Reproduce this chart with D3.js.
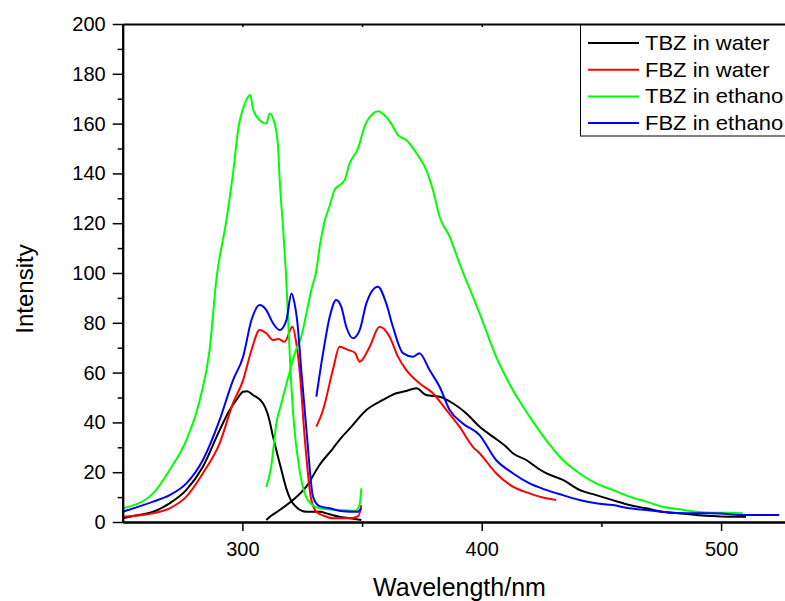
<html>
<script src='https://d3js.org/d3.v7.min.js'></script>
<style>
body {margin: 0; background: white;}
text {font-family: "Liberation Sans", Arial, sans-serif;}
</style>
<body>
<svg width=785 height=601></svg>
<script>
// [wavelength nm, intensity]
var tbzWaterEx = [[250,1.5],[255,2.5],[262.7,4.1],[269.6,7.5],[276.6,12.9],[283.5,22.2],[290.5,36.9],[294.7,45],[297.5,49],[300.3,52.3],[302,52.5],[304.4,51],[308.6,47.7],[311,42],[312.8,34.3],[316.3,20.9],[318.5,13],[321.1,7.5],[326.7,4.1],[332.3,4.1],[336,3.2],[340.6,2.1],[345,1.5],[349.7,0.8]];
var tbzWaterEm = [[310,0.8],[312,2.5],[315.6,4.8],[321.1,8.8],[326.7,14.2],[332.3,23],[337.8,29.5],[341,33.5],[344.8,37.5],[351.8,45],[358.7,49],[364.3,51.7],[368,52.5],[372.7,53.7],[376.8,51],[382.4,50.3],[387.9,47.7],[393.5,43.7],[399.1,38.3],[404.6,34.3],[410.2,30.2],[413,27.6],[418.6,24.9],[423.4,21.6],[426.9,19.6],[433.9,16.9],[440.8,12.9],[447.8,10.8],[454.7,8.8],[461.7,6.8],[468.7,5.5],[475.6,4.1],[482.6,3.5],[489.6,2.8],[496.5,2.4],[503.5,2.1],[510.4,2.1]];
var fbzWaterEx = [[250,2.1],[262.7,3.5],[269.6,5.5],[276.6,10.2],[283.5,19.6],[290.5,31.6],[296.1,47.7],[300.3,57],[303.8,69],[307.2,77.1],[310,75.8],[312.8,73.1],[315,73.5],[317.7,72.4],[320.9,78.4],[322.5,72],[323.9,61],[326,34.3],[328.8,8.8],[331,4],[334,2.5],[337.8,1.5],[345,1.5],[348.5,2.5],[349.7,6.8]];
var fbzWaterEm = [[330.9,38.3],[333.7,45],[337.8,61],[340.6,70.4],[344.1,69.1],[347,68],[349,64.4],[353.2,70.4],[357.3,78.4],[361.5,74.4],[365,66.4],[368.5,61],[374,55.7],[379.6,51.7],[385.2,45],[390.7,38.3],[396.3,30.2],[399.1,27.6],[406,19.6],[413,14.2],[420,11.5],[426.9,9.5],[431.1,8.8]];
var tbzEthEx = [[250,5.5],[262.7,11.5],[269.6,20.9],[276.6,32.9],[282.2,49],[286.3,69],[289.1,97],[293.3,121],[296.1,140],[298.2,157.4],[301,168],[303.3,171.5],[304.4,166],[307.2,161.4],[310,160],[311.4,164.1],[313.5,160],[314.9,150.7],[315.6,137.3],[317,118],[318.2,100],[320.1,61],[321.5,40],[323.9,20.9],[327.4,8.8],[332.3,5.5],[340,4.8],[347,4.5],[349,7],[349.7,13.5]];
var tbzEthEm = [[310,14],[312,22],[314.2,39.6],[316.3,47.7],[319.7,60],[322,68],[324.6,74.4],[327,85],[328.8,93.2],[330.9,101],[332.3,110.6],[334.4,121],[336.5,127],[338.5,133.3],[342.7,137.3],[344.8,144],[348.3,150],[351.1,159],[354.5,164],[356.6,165],[360,162.8],[362.2,160],[365,155.4],[368.5,153.4],[372.7,148.1],[376.8,141.4],[379.6,133.3],[382.4,122.6],[386.6,114.6],[390.7,103.9],[396.3,90.5],[399.1,83.8],[406,66.4],[413,53],[420,42.3],[426.9,32.9],[433.9,24.9],[440.8,19.6],[447.8,15.5],[454.7,12.9],[461.7,10.2],[468.7,8.2],[475.6,6.1],[482.6,5.1],[489.6,4.1],[496.5,3.7],[503.5,3.7],[509,3.5]];
var fbzEthEx = [[250,4.1],[262.7,8.2],[269.6,10.8],[276.6,15.5],[283.5,24.9],[290.5,41],[296.1,57],[300.3,66.4],[303.8,81.1],[307.2,87.1],[310,85.1],[312.8,79.8],[315.6,77.1],[318.4,81.1],[320.5,91.8],[321.8,87.8],[323,80],[324.6,61],[327,34.3],[329.5,10.2],[332,6.5],[336.5,5.5],[342,4.3],[348,4.1],[349.7,5.5]];
var fbzEthEm = [[330.9,50.3],[333.7,67.8],[336.5,82.4],[339.2,89.2],[341.3,86.5],[343.4,78.4],[346.2,73.8],[349,77.1],[351.8,87.8],[356.6,94.5],[360.1,87.8],[362.9,78.4],[367.1,67.8],[371.2,66.4],[374,67.8],[378.2,61],[382.4,54.3],[386.6,45],[392.1,39.6],[399.1,34.9],[406,24.9],[413,19.6],[420,15.5],[426.9,12.9],[433.9,10.8],[440.8,8.8],[447.8,7.5],[454.7,6.8],[461.7,5.5],[468.7,4.8],[482.6,3.5],[496.5,3.5],[510.4,2.8],[524.3,2.8]];

var legendNames = ["TBZ in water", "FBZ in water", "TBZ in ethano", "FBZ in ethano"];
var colors = ["#000000", "#ff0000", "#00ff00", "#0000ff"];
var yTicks = [0,20,40,60,80,100,120,140,160,180,200];
var yMinor = [10,30,50,70,90,110,130,150,170,190];
var xTicks = [300,400,500];
var xMinor = [350,450];

var series = [
	{seg: [tbzWaterEx, tbzWaterEm], c: 0},
	{seg: [fbzWaterEx, fbzWaterEm], c: 1},
	{seg: [tbzEthEx, tbzEthEm], c: 2},
	{seg: [fbzEthEx, fbzEthEm], c: 3}
];

var pLeft = 122.7, pRight = 785, pTop = 24, pBottom = 522;
var x = d3.scaleLinear().domain([250, 526.7]).range([pLeft, pRight]);
var y = d3.scaleLinear().domain([0, 200]).range([pBottom, pTop]);
var svg = d3.select("svg");

var line = d3.line().x(d => x(d[0])).y(d => y(d[1])).curve(d3.curveMonotoneX);
series.forEach(function(s) {
	s.seg.forEach(function(seg) {
		svg.append("path").attr("d", line(seg))
			.attr("fill", "none").attr("stroke", colors[s.c]).attr("stroke-width", 2)
			.attr("stroke-linejoin", "round");
	});
});

// axes
svg.append("g").attr("transform", "translate(" + pLeft + ",0)")
	.call(d3.axisLeft(y).tickValues(yTicks).tickSize(10).tickPadding(7).tickSizeOuter(0));
svg.append("g").attr("transform", "translate(" + pLeft + ",0)")
	.call(d3.axisLeft(y).tickValues(yMinor).tickSize(5).tickFormat("").tickSizeOuter(0));
svg.append("g").attr("transform", "translate(0," + pBottom + ")")
	.call(d3.axisBottom(x).tickValues(xTicks).tickSize(9).tickPadding(11).tickSizeOuter(0));
svg.append("g").attr("transform", "translate(0," + pBottom + ")")
	.call(d3.axisBottom(x).tickValues(xMinor).tickSize(5).tickFormat("").tickSizeOuter(0));
svg.append("g").attr("transform", "translate(0," + pTop + ")")
	.call(d3.axisBottom(x).tickValues(xTicks.concat(xMinor)).tickSize(3).tickFormat("").tickSizeOuter(0));

svg.selectAll(".domain").attr("stroke-width", 2).attr("stroke", "#000");
svg.selectAll(".tick line").attr("stroke-width", 1.5).attr("stroke", "#000");
svg.selectAll(".tick text").attr("font-size", 20).attr("fill", "#000")
	.attr("font-family", "'Liberation Sans', Arial, sans-serif");

svg.append("text").attr("transform", "translate(33,289) rotate(-90)")
	.attr("text-anchor", "middle").style("font-size", "24px").text("Intensity");
svg.append("text").attr("x", 459.5).attr("y", 596)
	.attr("text-anchor", "middle").style("font-size", "25px").text("Wavelength/nm");

// legend
var lg = svg.append("g");
lg.append("rect").attr("x", 580.5).attr("y", 25).attr("width", 240).attr("height", 111)
	.attr("fill", "white").attr("stroke", "#000").attr("stroke-width", 1);
legendNames.forEach(function(n, i) {
	var ly = 43 + i * 26.7;
	lg.append("line").attr("x1", 588).attr("x2", 639).attr("y1", ly).attr("y2", ly)
		.attr("stroke", colors[i]).attr("stroke-width", 2);
	lg.append("text").attr("transform", "translate(645," + (ly + 7) + ") scale(1.1,1)")
		.style("font-size", "20px").text(n);
});
</script>
</body>
</html>
